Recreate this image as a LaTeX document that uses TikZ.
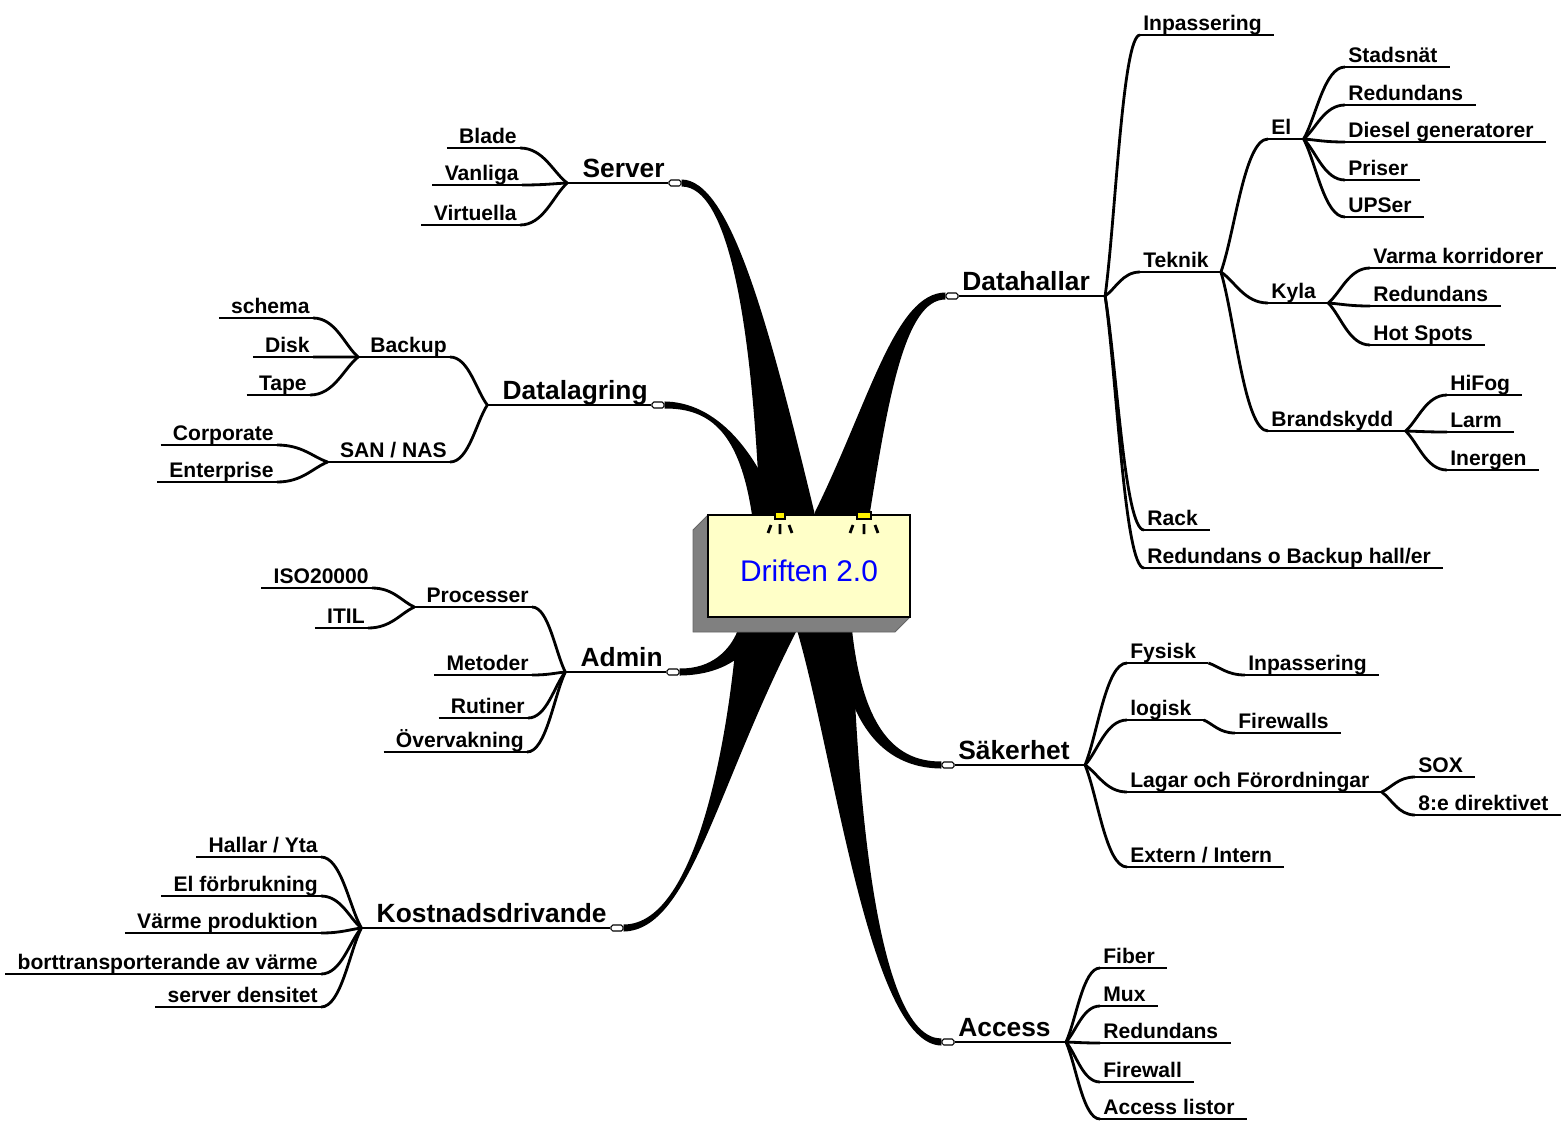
\documentclass[tikz,border=0pt]{standalone}
\usepackage{fontspec}
\setmainfont{Liberation Sans}
\usetikzlibrary{calc}
\pgfdeclarelayer{back}
\pgfsetlayers{back,main}
\definecolor{boxyellow}{RGB}{255,255,200}
\definecolor{boxgray}{RGB}{128,128,128}

\begin{document}
\begin{tikzpicture}[x=0.02cm, y=-0.02cm,
      every node/.style={inner xsep=0.06cm, inner ysep=0pt, text depth=2.5pt,
        font=\fontsize{12}{14}\selectfont\bfseries},
      rnode/.style={anchor=south west},
      lnode/.style={anchor=south east},
      topic/.style={inner xsep=0.2cm, text depth=3pt, font=\fontsize{15}{18}\selectfont\bfseries},
      ring/.style={draw, fill=white, rounded corners=1pt, minimum width=0.24cm,
        minimum height=0.12cm, inner sep=0pt, line width=0.6pt},
      link/.style={line width=1.6pt},
      trunk/.style={fill=black},
      centre/.style={draw, fill=boxyellow, line width=1pt, minimum width=4.04cm,
        minimum height=2.04cm, text=blue, text height=18pt, text depth=0pt,
        font=\fontsize{17}{20}\selectfont}]
  \useasboundingbox (0,0) rectangle (1563,1120);

  \filldraw[fill=boxgray, draw=black!60, line width=0.5pt]
    (708,515) -- (693,530) -- (693,632) -- (895,632) -- (910,617) -- cycle;
  \node[centre] (drift) at (809,566) {Driften 2.0};
  \foreach \lx/\w in {780/5,864/7} {
    \filldraw[fill=yellow, line width=0.6pt] (\lx-\w,512) rectangle (\lx+\w,519);
    \draw[line width=1.6pt] (\lx-\w-4,525) -- ++(-3,8) (\lx,524) -- ++(0,10)
      (\lx+\w+4,525) -- ++(3,8);
  }

  \node[ring] (dh-r) at (952,296) {};
  \node[ring] (sak-r) at (948,765) {};
  \node[ring] (acc-r) at (948,1042) {};
  \node[ring] (srv-r) at (675,183) {};
  \node[ring] (dl-r) at (658,405) {};
  \node[ring] (adm-r) at (673,672) {};
  \node[ring] (kost-r) at (617,928) {};

  \node[topic, anchor=south west] (dh) at (dh-r.center) {Datahallar};
  \node[topic, anchor=south west] (sak) at (sak-r.center) {Säkerhet};
  \node[topic, anchor=south west] (acc) at (acc-r.center) {Access};
  \node[topic, anchor=south east] (srv) at (srv-r.center) {Server};
  \node[topic, anchor=south east] (dl) at (dl-r.center) {Datalagring};
  \node[topic, anchor=south east] (adm) at (adm-r.center) {Admin};
  \node[topic, anchor=south east] (kost) at (kost-r.center) {Kostnadsdrivande};

  \begin{pgfonlayer}{back}
    \fill[trunk] (760,545) -- (760,515) .. controls (752,320) and (728,186) .. (srv-r.south east)
      -- (srv-r.north east) .. controls (730,180) and (768,320) .. (815,515) -- (815,545) -- cycle;
    \fill[trunk] (815,545) -- (815,512) .. controls (870,400) and (895,293) .. (dh-r.north west)
      -- (dh-r.south west) .. controls (905,299) and (888,400) .. (870,512) -- (870,545) -- cycle;
    \fill[trunk] (752,545) -- (752,515) .. controls (740,435) and (712,408) .. (dl-r.south east)
      -- (dl-r.north east) .. controls (710,402) and (752,440) .. (780,515) -- (780,545) -- cycle;
    \fill[trunk] (738,610) -- (738,630) .. controls (730,650) and (712,669) .. (adm-r.north east)
      -- (adm-r.south east) .. controls (718,675) and (745,660) .. (762,630) -- (762,610) -- cycle;
    \fill[trunk] (737,610) -- (737,630) .. controls (730,720) and (700,925) .. (kost-r.north east)
      -- (kost-r.south east) .. controls (690,930) and (715,790) .. (797,630) -- (797,610) -- cycle;
    \fill[trunk] (836,610) -- (836,630) .. controls (845,720) and (880,768) .. (sak-r.south west)
      -- (sak-r.north west) .. controls (890,762) and (862,720) .. (852,630) -- (852,610) -- cycle;
    \fill[trunk] (797,610) -- (797,630) .. controls (835,760) and (870,1045) .. (acc-r.south west)
      -- (acc-r.north west) .. controls (880,1039) and (858,820) .. (852,630) -- (852,610) -- cycle;
  \end{pgfonlayer}

  \node[rnode] (inpa) at (1140,35) {Inpassering};
  \node[rnode] (tek) at (1140,272) {Teknik};
  \node[rnode] (rack) at (1144,530) {Rack};
  \node[rnode] (rbh) at (1144,568) {Redundans o Backup hall/er};
  \node[rnode] (el) at (1268,139) {El};
  \node[rnode] (kyla) at (1268,303) {Kyla};
  \node[rnode] (brand) at (1268,431) {Brandskydd};
  \node[rnode] (stad) at (1345,67) {Stadsnät};
  \node[rnode] (elred) at (1345,105) {Redundans};
  \node[rnode] (dies) at (1345,142) {Diesel generatorer};
  \node[rnode] (pris) at (1345,180) {Priser};
  \node[rnode] (ups) at (1345,217) {UPSer};
  \node[rnode] (varm) at (1370,268) {Varma korridorer};
  \node[rnode] (kyred) at (1370,306) {Redundans};
  \node[rnode] (hot) at (1370,345) {Hot Spots};
  \node[rnode] (hifog) at (1447,395) {HiFog};
  \node[rnode] (larm) at (1447,432) {Larm};
  \node[rnode] (iner) at (1447,470) {Inergen};
  \node[rnode] (fys) at (1127,663) {Fysisk};
  \node[rnode] (fysinp) at (1245,675) {Inpassering};
  \node[rnode] (log) at (1127,720) {logisk};
  \node[rnode] (fw) at (1235,733) {Firewalls};
  \node[rnode] (lag) at (1127,792) {Lagar och Förordningar};
  \node[rnode] (sox) at (1415,777) {SOX};
  \node[rnode] (dir8) at (1415,815) {8:e direktivet};
  \node[rnode] (ext) at (1127,867) {Extern / Intern};
  \node[rnode] (fib) at (1100,968) {Fiber};
  \node[rnode] (mux) at (1100,1006) {Mux};
  \node[rnode] (accred) at (1100,1043) {Redundans};
  \node[rnode] (fwall) at (1100,1082) {Firewall};
  \node[rnode] (acl) at (1100,1119) {Access listor};

  \node[lnode] (blade) at (520,148) {Blade};
  \node[lnode] (vanl) at (522,185) {Vanliga};
  \node[lnode] (virt) at (520,225) {Virtuella};
  \node[lnode] (backup) at (450,357) {Backup};
  \node[lnode] (san) at (450,462) {SAN / NAS};
  \node[lnode] (sch) at (313,318) {schema};
  \node[lnode] (disk) at (313,357) {Disk};
  \node[lnode] (tape) at (310,395) {Tape};
  \node[lnode] (corp) at (277,445) {Corporate};
  \node[lnode] (ent) at (277,482) {Enterprise};
  \node[lnode] (proc) at (532,607) {Processer};
  \node[lnode] (iso) at (372,588) {ISO20000};
  \node[lnode] (itil) at (368,628) {ITIL};
  \node[lnode] (meto) at (532,675) {Metoder};
  \node[lnode] (rut) at (528,718) {Rutiner};
  \node[lnode] (overv) at (527,752) {Övervakning};
  \node[lnode] (hall) at (321,857) {Hallar / Yta};
  \node[lnode] (elf) at (321,896) {El förbrukning};
  \node[lnode] (varme) at (321,933) {Värme produktion};
  \node[lnode] (bort) at (321,974) {borttransporterande av värme};
  \node[lnode] (dens) at (321,1007) {server densitet};

  \foreach \n in {inpa,tek,rack,rbh,el,kyla,brand,stad,elred,dies,pris,ups,varm,kyred,hot,
      hifog,larm,iner,fys,fysinp,log,fw,lag,sox,dir8,ext,fib,mux,accred,fwall,acl} {
    \coordinate (\n-i) at (\n.south west);
    \coordinate (\n-o) at ([xshift=0.18cm]\n.south east);
    \draw[link] (\n-i) -- (\n-o);
  }
  \foreach \n in {blade,vanl,virt,backup,san,sch,disk,tape,corp,ent,proc,iso,itil,meto,rut,
      overv,hall,elf,varme,bort,dens} {
    \coordinate (\n-i) at (\n.south east);
    \coordinate (\n-o) at ([xshift=-0.18cm]\n.south west);
    \draw[link] (\n-o) -- (\n-i);
  }
  \foreach \n in {dh,sak,acc} {
    \coordinate (\n-o) at ([xshift=0.1cm]\n.south east);
    \draw[link] (\n-r.east) -- (\n-o);
  }
  \foreach \n in {srv,dl,adm,kost} {
    \coordinate (\n-o) at ([xshift=-0.1cm]\n.south west);
    \draw[link] (\n-r.west) -- (\n-o);
  }

  \foreach \p/\c in {dh/inpa,dh/tek,dh/rack,dh/rbh,tek/el,tek/kyla,tek/brand,
      el/stad,el/elred,el/dies,el/pris,el/ups,kyla/varm,kyla/kyred,kyla/hot,
      brand/hifog,brand/larm,brand/iner,sak/fys,sak/log,sak/lag,sak/ext,fys/fysinp,
      log/fw,lag/sox,lag/dir8,acc/fib,acc/mux,acc/accred,acc/fwall,acc/acl,
      srv/blade,srv/vanl,srv/virt,dl/backup,dl/san,backup/sch,backup/disk,backup/tape,
      san/corp,san/ent,adm/proc,adm/meto,adm/rut,adm/overv,proc/iso,proc/itil,
      kost/hall,kost/elf,kost/varme,kost/bort,kost/dens}
    \draw[link] (\p-o) .. controls ($(\p-o)!0.3!(\c-i)$) and ($(\c-i)!0.5!(\p-o |- \c-i)$) .. (\c-i);
\end{tikzpicture}
\end{document}
